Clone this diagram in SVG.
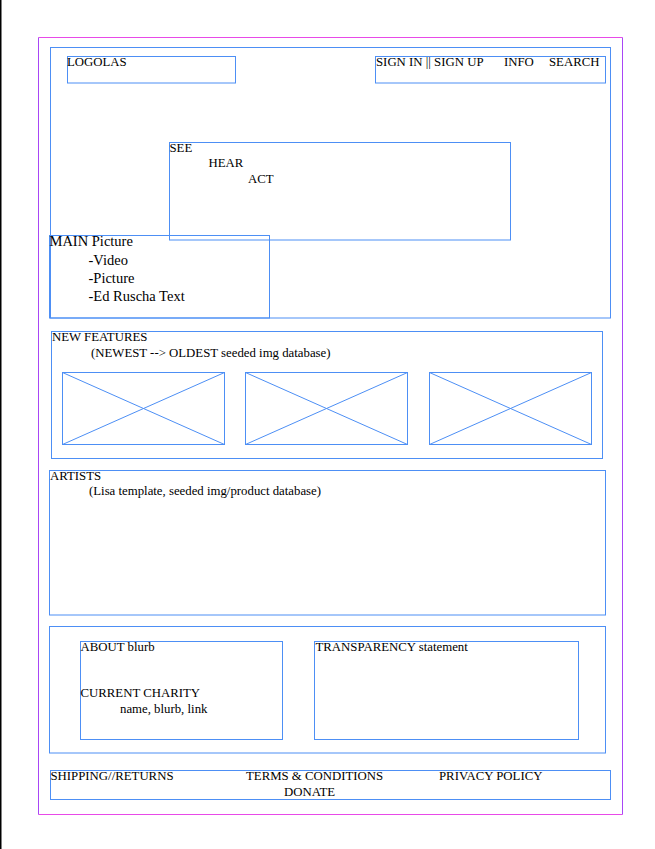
<svg xmlns="http://www.w3.org/2000/svg" width="655" height="849" viewBox="0 0 655 849">
<style>
.b{fill:none;stroke:#4d8ff5;stroke-width:1}
.h{stroke:#e84ae8;stroke-width:1}
.v{stroke:#a846f6;stroke-width:1}
text{font-family:"Liberation Serif","Times New Roman",serif;font-size:12.8px;fill:#000}
.lg{font-size:14.5px}
</style>
<rect x="0" y="0" width="655" height="849" fill="#fff"/>
<rect x="0" y="0" width="1.5" height="849" fill="#000"/>
<g id="page">
<line class="h" x1="38.5" y1="37.5" x2="622.5" y2="37.5"/>
<line class="h" x1="38.5" y1="814.5" x2="622.5" y2="814.5"/>
<line class="v" x1="38.5" y1="37.5" x2="38.5" y2="814.5"/>
<line class="v" x1="622.5" y1="37.5" x2="622.5" y2="814.5"/>
</g>
<g id="header"><rect class="b" x="50.5" y="47.5" width="560" height="270.5"/></g>
<g id="logo"><rect class="b" x="67.5" y="56.5" width="168" height="26.5"/><text x="67" y="65.5">LOGOLAS</text></g>
<g id="nav"><rect class="b" x="375.5" y="56.5" width="230" height="26.5"/>
<text x="376" y="65.5">SIGN IN || SIGN UP</text><text x="504" y="65.5">INFO</text><text x="549" y="65.5">SEARCH</text></g>
<g id="see"><rect class="b" x="169.5" y="142.5" width="341" height="97.5"/>
<text x="169.5" y="151.5">SEE</text><text x="208.5" y="166.5">HEAR</text><text x="248" y="182.5">ACT</text></g>
<g id="main"><rect class="b" x="49.5" y="235.5" width="220" height="82.5"/>
<text class="lg" x="49.5" y="245.5">MAIN Picture</text>
<text class="lg" x="88.5" y="264.5">-Video</text>
<text class="lg" x="88.5" y="282.5">-Picture</text>
<text class="lg" x="88.5" y="300.5">-Ed Ruscha Text</text></g>
<g id="features"><rect class="b" x="51.5" y="331.5" width="551" height="127"/>
<text x="52" y="341">NEW FEATURES</text>
<text x="91" y="356.5">(NEWEST --&gt; OLDEST seeded img database)</text></g>
<g id="img1"><rect class="b" x="62.5" y="372.5" width="162" height="72"/><path class="b" d="M62.5 372.5L224.5 444.5M224.5 372.5L62.5 444.5"/></g>
<g id="img2"><rect class="b" x="245.5" y="372.5" width="162" height="72"/><path class="b" d="M245.5 372.5L407.5 444.5M407.5 372.5L245.5 444.5"/></g>
<g id="img3"><rect class="b" x="429.5" y="372.5" width="162" height="72"/><path class="b" d="M429.5 372.5L591.5 444.5M591.5 372.5L429.5 444.5"/></g>
<g id="artists"><rect class="b" x="49.5" y="470.5" width="556" height="144.5"/>
<text x="50" y="479.5">ARTISTS</text>
<text x="89" y="495">(Lisa template, seeded img/product database)</text></g>
<g id="info"><rect class="b" x="49.5" y="626.5" width="556" height="126.5"/></g>
<g id="about"><rect class="b" x="80.5" y="641.5" width="202" height="98"/>
<text x="80.5" y="651">ABOUT blurb</text>
<text x="80.5" y="697">CURRENT CHARITY</text>
<text x="120" y="713">name, blurb, link</text></g>
<g id="transparency"><rect class="b" x="314.5" y="641.5" width="264" height="98"/>
<text x="315.5" y="651">TRANSPARENCY statement</text></g>
<g id="footer"><rect class="b" x="50.5" y="770.5" width="560" height="29"/>
<text x="50.5" y="780">SHIPPING//RETURNS</text>
<text x="246" y="780">TERMS &amp; CONDITIONS</text>
<text x="439" y="780">PRIVACY POLICY</text>
<text x="284" y="796">DONATE</text></g>
<g id="connectors"></g>
</svg>
